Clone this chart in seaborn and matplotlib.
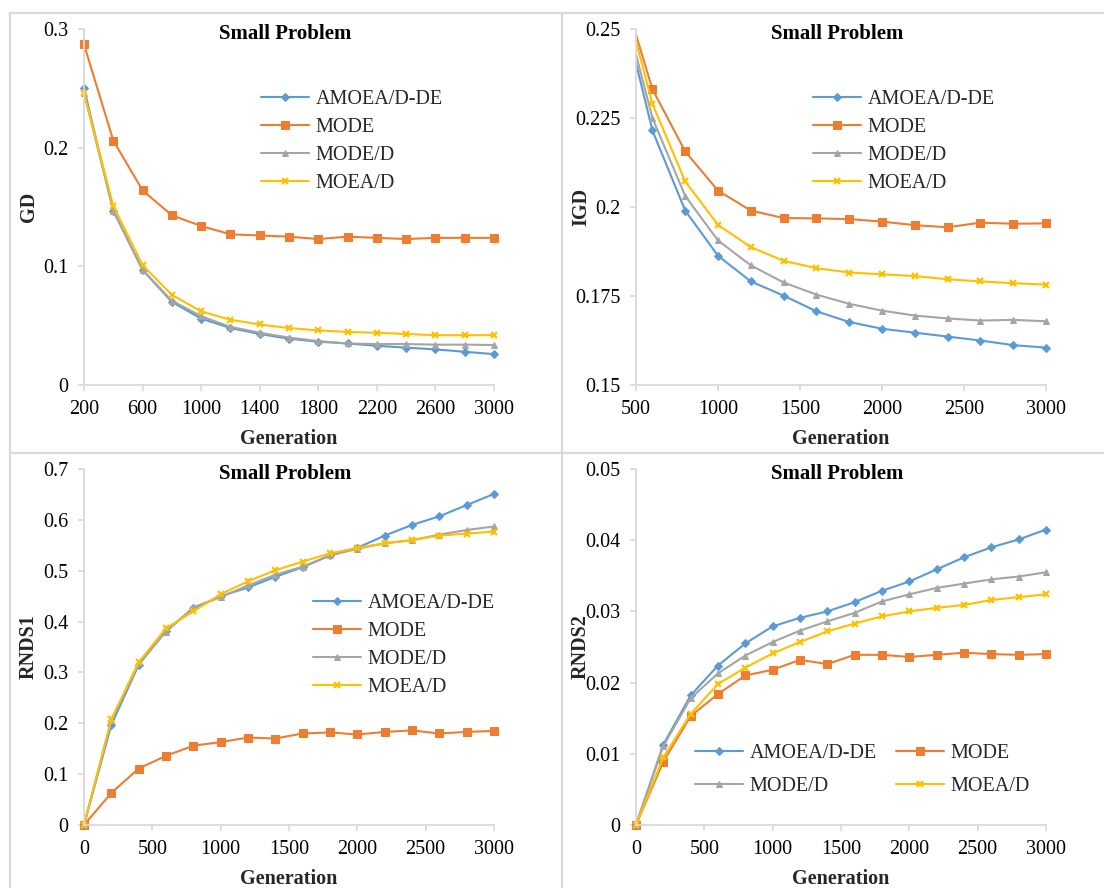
import numpy as np
import pandas as pd
import matplotlib
matplotlib.use("Agg")
import matplotlib.pyplot as plt
from matplotlib.ticker import FuncFormatter, FixedLocator
from matplotlib.lines import Line2D
import seaborn as sns

# ---------------- data ----------------
series = ["AMOEA/D-DE", "MODE", "MODE/D", "MOEA/D"]

gd_x = [200, 400, 600, 800, 1000, 1200, 1400, 1600, 1800, 2000, 2200, 2400, 2600, 2800, 3000]
gd_amoea = [0.250, 0.147, 0.097, 0.070, 0.056, 0.048, 0.043, 0.039, 0.0365, 0.035, 0.033, 0.0315, 0.030, 0.028, 0.026]
gd_mode = [0.287, 0.206, 0.164, 0.143, 0.134, 0.127, 0.126, 0.125, 0.123, 0.125, 0.124, 0.123, 0.124, 0.124, 0.124]
gd_moded = [0.246, 0.147, 0.097, 0.071, 0.058, 0.049, 0.044, 0.040, 0.037, 0.035, 0.0345, 0.0345, 0.034, 0.034, 0.0337]
gd_moead = [0.246, 0.151, 0.101, 0.076, 0.062, 0.055, 0.051, 0.048, 0.046, 0.0447, 0.044, 0.043, 0.042, 0.042, 0.042]

igd_x = [500, 600, 800, 1000, 1200, 1400, 1600, 1800, 2000, 2200, 2400, 2600, 2800, 3000]
igd_amoea = [0.2404, 0.2215, 0.1990, 0.1863, 0.1791, 0.1751, 0.1707, 0.1677, 0.1658, 0.1647, 0.1636, 0.1625, 0.1612, 0.1605]
igd_mode = [0.2484, 0.2331, 0.2156, 0.2046, 0.1990, 0.1969, 0.1968, 0.1966, 0.1959, 0.1949, 0.1943, 0.1956, 0.1953, 0.1954]
igd_moded = [0.2428, 0.2250, 0.2031, 0.1906, 0.1836, 0.1788, 0.1754, 0.1728, 0.1709, 0.1695, 0.1687, 0.1681, 0.1683, 0.1679]
igd_moead = [0.2465, 0.2290, 0.2072, 0.1950, 0.1887, 0.1849, 0.1828, 0.1816, 0.1811, 0.1806, 0.1797, 0.1791, 0.1786, 0.1782]

r_x = [0, 200, 400, 600, 800, 1000, 1200, 1400, 1600, 1800, 2000, 2200, 2400, 2600, 2800, 3000]
r1_amoea = [0, 0.197, 0.315, 0.382, 0.426, 0.450, 0.467, 0.488, 0.507, 0.530, 0.545, 0.569, 0.590, 0.607, 0.629, 0.651]
r1_mode = [0, 0.063, 0.111, 0.136, 0.156, 0.163, 0.172, 0.170, 0.180, 0.182, 0.178, 0.183, 0.186, 0.180, 0.183, 0.185]
r1_moded = [0, 0.206, 0.318, 0.380, 0.428, 0.448, 0.471, 0.492, 0.508, 0.530, 0.543, 0.554, 0.560, 0.571, 0.580, 0.587]
r1_moead = [0, 0.208, 0.320, 0.387, 0.420, 0.454, 0.479, 0.501, 0.518, 0.534, 0.545, 0.554, 0.560, 0.569, 0.573, 0.577]

r2_amoea = [0, 0.0113, 0.0182, 0.0224, 0.0255, 0.0279, 0.0291, 0.0300, 0.0313, 0.0329, 0.0342, 0.0359, 0.0376, 0.0390, 0.0401, 0.0415]
r2_mode = [0, 0.0089, 0.0153, 0.0184, 0.0210, 0.0218, 0.0232, 0.0226, 0.0239, 0.0239, 0.0236, 0.0239, 0.0242, 0.0240, 0.0239, 0.0240]
r2_moded = [0, 0.0111, 0.0178, 0.0213, 0.0238, 0.0257, 0.0273, 0.0286, 0.0298, 0.0314, 0.0324, 0.0333, 0.0339, 0.0345, 0.0349, 0.0355]
r2_moead = [0, 0.0095, 0.0156, 0.0198, 0.0221, 0.0241, 0.0257, 0.0272, 0.0283, 0.0293, 0.0300, 0.0305, 0.0309, 0.0316, 0.0320, 0.0324]

gd_ticks = [200, 600, 1000, 1400, 1800, 2200, 2600, 3000]
igd_ticks = [500, 1000, 1500, 2000, 2500, 3000]
r_ticks = [0, 500, 1000, 1500, 2000, 2500, 3000]

# ---------------- style ----------------
sns.set_theme(style="white")
plt.rcParams['font.family'] = ['Liberation Serif', 'DejaVu Serif']
plt.rcParams['font.size'] = 14.5

colors = {"AMOEA/D-DE": "#5B9BD5", "MODE": "#ED7D31", "MODE/D": "#A5A5A5", "MOEA/D": "#FFC000"}
mstyle = {
    "AMOEA/D-DE": dict(marker="D", markersize=4.0),
    "MODE": dict(marker="s", markersize=6.0),
    "MODE/D": dict(marker="^", markersize=5.0),
    "MOEA/D": dict(marker="x", markersize=5.0, markeredgewidth=1.6),
}
AX = "#d9d9d9"

W, H = 1104, 888
fig = plt.figure(figsize=(W / 100, H / 100), dpi=100)


def axes_px(l, r, t, b):
    return fig.add_axes([l / W, 1 - b / H, (r - l) / W, (b - t) / H])


def draw(ax, x, ys, xlim, ylim, xticks, yticks, ylabel, skip_first=False):
    for name, y in zip(series, ys):
        df = pd.DataFrame({"Generation": x, "v": y})
        kw = dict(mstyle[name])
        if skip_first:
            kw["markevery"] = list(range(1, len(x)))
        sns.lineplot(data=df, x="Generation", y="v", ax=ax, color=colors[name],
                     linewidth=1.5, markeredgecolor=colors[name],
                     markerfacecolor=colors[name], label=name, clip_on=False,
                     legend=False, **kw)
    ax.set_xlim(*xlim)
    ax.set_ylim(*ylim)
    ax.xaxis.set_major_locator(FixedLocator(xticks))
    ax.yaxis.set_major_locator(FixedLocator(yticks))
    ax.yaxis.set_major_formatter(FuncFormatter(lambda v, p: "{:g}".format(round(v, 6))))
    ax.xaxis.set_major_formatter(FuncFormatter(lambda v, p: "{:g}".format(v)))
    for s in ["top", "right"]:
        ax.spines[s].set_visible(False)
    for s in ["left", "bottom"]:
        ax.spines[s].set_color(AX)
        ax.spines[s].set_linewidth(1.3)
    ax.tick_params(axis="both", which="major", direction="out", length=4, width=1.2,
                   color=AX, labelsize=14.5, labelcolor="black", pad=7,
                   left=True, bottom=True)
    ax.grid(False)
    ax.set_facecolor("none")
    ax.set_xlabel("Generation", fontsize=14.5, fontweight="bold")
    ax.set_ylabel(ylabel, fontsize=14.5, fontweight="bold")
    ax.xaxis.set_label_coords(0.5, -0.123)
    ax.yaxis.set_label_coords(-0.11, 0.5)
    ax.text(0.49, 0.985, "Small Problem", transform=ax.transAxes, ha="center",
            va="center", fontsize=15, fontweight="bold", color="black")


ax1 = axes_px(84, 494, 29, 385)
draw(ax1, gd_x, [gd_amoea, gd_mode, gd_moded, gd_moead], (200, 3000), (0, 0.3),
     gd_ticks, [0, 0.1, 0.2, 0.3], "GD")
ax2 = axes_px(636, 1046, 29, 385)
draw(ax2, igd_x, [igd_amoea, igd_mode, igd_moded, igd_moead], (500, 3000), (0.15, 0.25),
     igd_ticks, [0.15, 0.175, 0.2, 0.225, 0.25], "IGD", skip_first=True)
ax3 = axes_px(84, 494, 469, 825)
draw(ax3, r_x, [r1_amoea, r1_mode, r1_moded, r1_moead], (0, 3000), (0, 0.7),
     r_ticks, [0, 0.1, 0.2, 0.3, 0.4, 0.5, 0.6, 0.7], "RNDS1")
ax4 = axes_px(636, 1046, 469, 825)
draw(ax4, r_x, [r2_amoea, r2_mode, r2_moded, r2_moead], (0, 3000), (0, 0.05),
     r_ticks, [0, 0.01, 0.02, 0.03, 0.04, 0.05], "RNDS2")


def legend(ax, xpx, ypx, ncol=1, order=None, labelspacing=0.43):
    h, l = ax.get_legend_handles_labels()
    if order is not None:
        h = [h[i] for i in order]
        l = [l[i] for i in order]
    ax.legend(h, l, loc="center left", bbox_to_anchor=(xpx / W, 1 - ypx / H),
              bbox_transform=fig.transFigure, frameon=False, fontsize=14.5,
              handlelength=2.4, handletextpad=0.3, labelspacing=labelspacing,
              borderpad=0, borderaxespad=0, ncol=ncol, columnspacing=0.95)


legend(ax1, 261, 141.5)
legend(ax2, 813, 141.5)
legend(ax3, 313, 645.5)
legend(ax4, 695, 770, ncol=2, order=[0, 2, 1, 3], labelspacing=0.7)

# panel frames
fc = AX
for x0, y0, x1, y1 in [(10, 13, W, 13), (10, 453, W, 453), (10, 13, 10, H), (562, 13, 562, H)]:
    fig.add_artist(Line2D([x0 / W, x1 / W], [1 - y0 / H, 1 - y1 / H], color=fc,
                          linewidth=1.6, transform=fig.transFigure))

fig.savefig("out.png", dpi=100, facecolor="white")
